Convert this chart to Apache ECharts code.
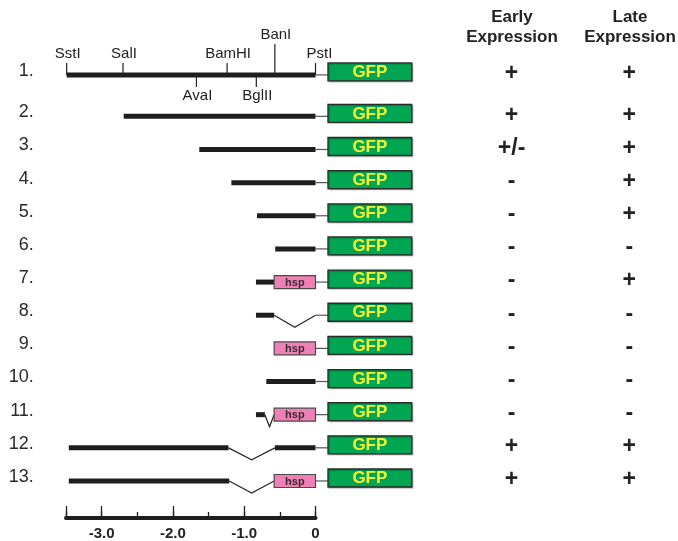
<!DOCTYPE html>
<html>
<head>
<meta charset="utf-8">
<script src="https://cdn.jsdelivr.net/npm/echarts@6/dist/echarts.min.js"></script>
<style>
  html, body { margin: 0; padding: 0; background: #fff; }
  #main { width: 678px; height: 541px; }
</style>
</head>
<body>
<div id="main"></div>
<script>
// construct numbers
const rowLabels = ['1.', '2.', '3.', '4.', '5.', '6.', '7.', '8.', '9.', '10.', '11.', '12.', '13.'];
// upstream genomic fragments: [row, from kb, to kb]
const fragments = [
  [1, -3.49, 0], [2, -2.69, 0], [3, -1.63, 0], [4, -1.18, 0], [5, -0.82, 0], [6, -0.565, 0],
  [7, -0.835, -0.58], [8, -0.835, -0.58], [10, -0.69, 0], [11, -0.835, -0.71],
  [12, -3.46, -1.22], [12, -0.57, 0], [13, -3.46, -1.21]
];
// internal deletions: [row, from kb, to kb]
const deletions = [[8, -0.58, 0], [11, -0.71, -0.58], [12, -1.22, -0.57], [13, -1.21, -0.58]];
// rows carrying the hsp minimal promoter
const hspRows = [7, 9, 11, 13];
const earlyExpr = ['+', '+', '+/-', '-', '-', '-', '-', '-', '-', '-', '-', '+', '+'];
const lateExpr = ['+', '+', '+', '+', '+', '-', '+', '-', '-', '-', '-', '+', '+'];
// restriction sites on construct 1: [name, kb, side, level]
const sites = [
  ['SstI', -3.49, 'up', 1], ['SalI', -2.70, 'up', 1], ['BamHI', -1.24, 'up', 1],
  ['BanI', -0.57, 'up', 2], ['PstI', 0, 'up', 1],
  ['AvaI', -1.67, 'down', 1], ['BglII', -0.83, 'down', 1]
];
// scale bar (kb)
const scaleMin = -3.5;
const scaleMajor = [-3.5, -3, -2, -1, 0];
const scaleLabels = [-3, -2, -1, 0];

const HSP_FROM = -0.58, HSP_TO = 0;
const GFP_FROM = 0.175, GFP_TO = 1.35;
const LABEL_X = -3.95, EARLY_X = 2.75, LATE_X = 4.40;
const BAR_DY = 3;
const FONT = '"Liberation Sans", Arial, Helvetica, sans-serif';

// construct 1 sits a little higher to make room for the site labels
const rowPos = r => (r === 1 ? 0.75 : r);

const chart = echarts.init(document.getElementById('main'), null, { renderer: 'canvas' });

function rowItem(params, api) {
  const r = api.value(0);
  const i = r - 1;
  const c0 = api.coord([0, rowPos(r)]);
  const g0 = api.coord([GFP_FROM, rowPos(r)]);
  const g1 = api.coord([GFP_TO, rowPos(r)]);
  const lab = api.coord([LABEL_X, rowPos(r)]);
  const e = api.coord([EARLY_X, rowPos(r)]);
  const l = api.coord([LATE_X, rowPos(r)]);
  const cy = g0[1];
  return {
    type: 'group',
    children: [
      { type: 'line', shape: { x1: c0[0], y1: cy + BAR_DY, x2: g0[0], y2: cy + BAR_DY },
        style: { stroke: '#555', lineWidth: 1.2 } },
      { type: 'rect', shape: { x: g0[0], y: cy - 9, width: g1[0] - g0[0], height: 18 },
        style: { fill: '#00a651', stroke: '#2b2b2b', lineWidth: 1.3, shadowColor: 'rgba(0,0,0,0.25)', shadowOffsetX: 1, shadowOffsetY: 1, shadowBlur: 1 } },
      { type: 'text', x: (g0[0] + g1[0]) / 2, y: cy + 0.5,
        style: { text: 'GFP', fill: '#f4f032', font: 'bold 17px ' + FONT, align: 'center', verticalAlign: 'middle' } },
      { type: 'text', x: lab[0], y: cy - 1,
        style: { text: rowLabels[i], fill: '#2a2a2a', font: '18px ' + FONT, align: 'right', verticalAlign: 'middle' } },
      { type: 'text', x: e[0], y: cy + 2,
        style: { text: earlyExpr[i], fill: '#222', font: 'bold 23px ' + FONT, align: 'center', verticalAlign: 'middle' } },
      { type: 'text', x: l[0], y: cy + 2,
        style: { text: lateExpr[i], fill: '#222', font: 'bold 23px ' + FONT, align: 'center', verticalAlign: 'middle' } }
    ]
  };
}

function fragmentItem(params, api) {
  const r = api.value(0);
  const a = api.coord([api.value(1), rowPos(r)]);
  const b = api.coord([api.value(2), rowPos(r)]);
  return { type: 'line', shape: { x1: a[0], y1: a[1] + BAR_DY, x2: b[0], y2: b[1] + BAR_DY },
    style: { stroke: '#1e1e1e', lineWidth: 5 } };
}

function deletionItem(params, api) {
  const r = api.value(0);
  const a = api.coord([api.value(1), rowPos(r)]);
  const b = api.coord([api.value(2), rowPos(r)]);
  const y = a[1] + BAR_DY;
  return { type: 'polyline',
    shape: { points: [[a[0], y], [(a[0] + b[0]) / 2, y + 12], [b[0], y]] },
    style: { stroke: '#2a2a2a', lineWidth: 1.3, fill: null } };
}

function hspItem(params, api) {
  const r = api.value(0);
  const a = api.coord([HSP_FROM, rowPos(r)]);
  const b = api.coord([HSP_TO, rowPos(r)]);
  const y = a[1] + BAR_DY;
  return { type: 'group', children: [
    { type: 'rect', shape: { x: a[0], y: y - 6.5, width: b[0] - a[0], height: 13 },
      style: { fill: '#ef80b5', stroke: '#4a4a4a', lineWidth: 1.2 } },
    { type: 'text', x: (a[0] + b[0]) / 2, y: y + 0.5,
      style: { text: 'hsp', fill: '#3a2a33', font: 'bold 11px ' + FONT, align: 'center', verticalAlign: 'middle' } }
  ] };
}

function siteItem(params, api) {
  const s = sites[params.dataIndex];
  const p = api.coord([s[1], rowPos(1)]);
  const y = p[1] + BAR_DY;
  const up = s[2] === 'up';
  const len = s[3] === 2 ? 31 : 12;
  const y2 = up ? y - len : y + len;
  return { type: 'group', children: [
    { type: 'line', shape: { x1: p[0], y1: y, x2: p[0], y2: y2 },
      style: { stroke: '#222', lineWidth: 1.2 } },
    { type: 'text', x: p[0] + (s[0] === 'PstI' ? 4 : 1), y: up ? y2 - 9 : y2 + 9,
      style: { text: s[0], fill: '#222', font: '15px ' + FONT, align: 'center', verticalAlign: 'middle' } }
  ] };
}

const option = {
  animation: false,
  backgroundColor: '#fff',
  grid: [
    { left: 30.3, right: 6, top: 63.6, bottom: 13.3 },
    { left: 65.95, right: 362.5, bottom: 22.5, height: 12 }
  ],
  xAxis: [
    { gridIndex: 0, type: 'value', min: -4, max: 5, show: false },
    { gridIndex: 1, type: 'value', min: scaleMin, max: 0, interval: 0.5,
      axisLine: { lineStyle: { color: '#1e1e1e', width: 4 } },
      axisTick: { inside: true, length: 6, lineStyle: { color: '#1e1e1e', width: 1.3 } },
      axisLabel: { show: false },
      splitLine: { show: false } },
    { gridIndex: 1, type: 'value', min: scaleMin, max: 0, position: 'bottom',
      axisLine: { show: false },
      axisTick: { inside: true, length: 12, customValues: scaleMajor, lineStyle: { color: '#1e1e1e', width: 1.3 } },
      axisLabel: { customValues: scaleLabels, margin: 8, color: '#222',
        fontFamily: FONT, fontWeight: 'bold', fontSize: 15,
        formatter: v => (v === 0 ? '0' : v.toFixed(1)) },
      splitLine: { show: false } }
  ],
  yAxis: [
    { gridIndex: 0, type: 'value', min: 0.5, max: 14.5, inverse: true, show: false },
    { gridIndex: 1, type: 'value', min: 0, max: 1, show: false }
  ],
  graphic: [
    { type: 'text', x: 512, y: 8, style: { text: 'Early\nExpression', fill: '#222', font: 'bold 17px ' + FONT, align: 'center', lineHeight: 19.5 } },
    { type: 'text', x: 630, y: 8, style: { text: 'Late\nExpression', fill: '#222', font: 'bold 17px ' + FONT, align: 'center', lineHeight: 19.5 } }
  ],
  series: [
    { type: 'custom', xAxisIndex: 0, yAxisIndex: 0, clip: false, silent: true,
      data: rowLabels.map((t, i) => [i + 1]), encode: { y: 0 }, renderItem: rowItem },
    { type: 'custom', xAxisIndex: 0, yAxisIndex: 0, clip: false, silent: true,
      data: fragments, encode: { x: [1, 2], y: 0 }, renderItem: fragmentItem },
    { type: 'custom', xAxisIndex: 0, yAxisIndex: 0, clip: false, silent: true,
      data: deletions, encode: { x: [1, 2], y: 0 }, renderItem: deletionItem },
    { type: 'custom', xAxisIndex: 0, yAxisIndex: 0, clip: false, silent: true,
      data: hspRows.map(r => [r]), encode: { y: 0 }, renderItem: hspItem },
    { type: 'custom', xAxisIndex: 0, yAxisIndex: 0, clip: false, silent: true,
      data: sites.map(s => [s[1], 1]), encode: { x: 0, y: 1 }, renderItem: siteItem }
  ]
};

chart.setOption(option);
</script>
</body>
</html>
